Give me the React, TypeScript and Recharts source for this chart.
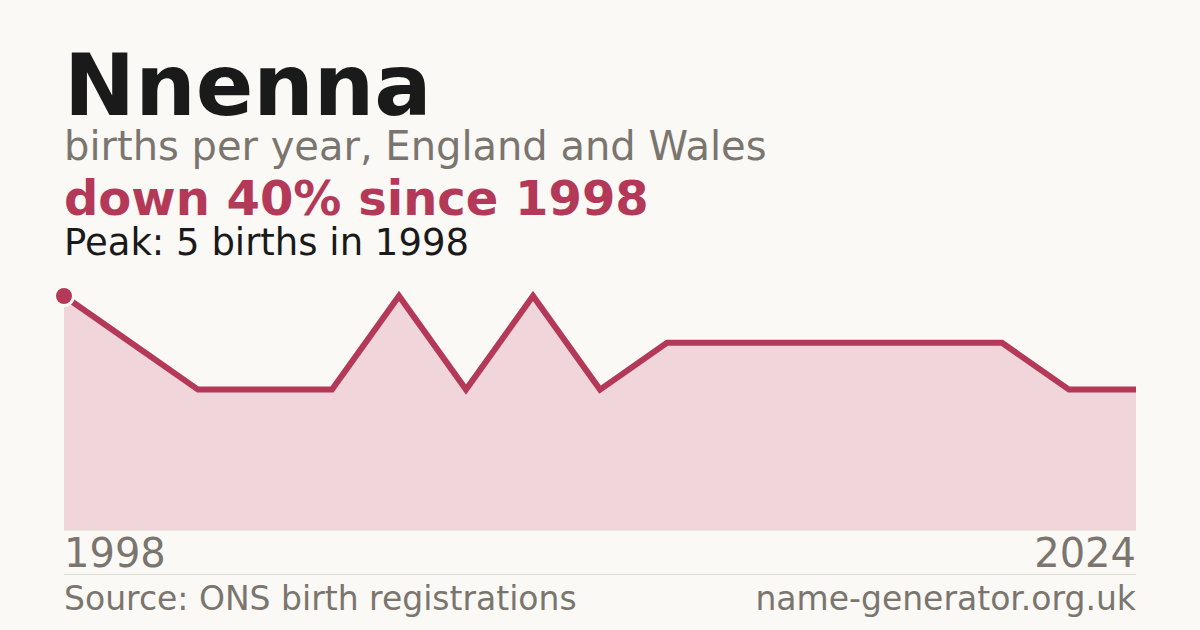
import React from 'react';
import { AreaChart, Area, XAxis, YAxis } from 'recharts';

const years = [1998, 1999, 2001, 2003, 2005, 2006, 2008, 2010, 2012, 2014, 2016, 2017, 2019, 2020, 2022, 2023, 2024];
const births = [5, 4, 3, 3, 3, 5, 3, 5, 3, 4, 4, 4, 4, 4, 4, 3, 3];
const axisLabels = ['1998', '2024'];

const BG = '#faf9f5';
const CRIMSON = '#b43958';
const FILL = '#f0d5da';
const GREY = '#7a756e';
const INK = '#1a1a1a';

const data = years.map((y, i) => ({ year: y, births: births[i] }));

const FirstDot = (props: any) => {
  const { cx, cy, index } = props;
  if (index !== 0) return <g key={`d${index}`} />;
  return <circle key="d0" cx={cx} cy={cy} r={9.5} fill={CRIMSON} stroke={BG} strokeWidth={3} />;
};

const YearTick = (props: any) => {
  const { x, y, payload } = props;
  const label = String(payload.value);
  if (!axisLabels.includes(label)) return <g />;
  const first = label === axisLabels[0];
  return (
    <text x={x} y={y} dy={29} textAnchor={first ? 'start' : 'end'} fill={GREY} fontSize={40} fontFamily="DejaVu Sans">
      {label}
    </text>
  );
};

export default function App() {
  return (
    <div style={{ position: 'absolute', left: 0, top: 0, width: 1200, height: 630, background: BG, fontFamily: 'DejaVu Sans' }}>
      <AreaChart width={1200} height={630} data={data} margin={{ top: 296, right: 64, bottom: 70, left: 64 }}>
        <XAxis
          dataKey="year"
          type="category"
          interval={0}
          height={30}
          tickLine={false}
          axisLine={{ stroke: '#dedad2', strokeWidth: 1 }}
          tick={<YearTick />}
        />
        <YAxis hide domain={[0, 5]} />
        <Area
          type="linear"
          dataKey="births"
          stroke={CRIMSON}
          strokeWidth={6}
          fill={FILL}
          fillOpacity={1}
          dot={FirstDot}
          activeDot={false}
          isAnimationActive={false}
        />
      </AreaChart>
      <svg width={1200} height={630} style={{ position: 'absolute', left: 0, top: 0, pointerEvents: 'none' }}>
        <text x={64} y={115} fontSize={85} fontWeight="bold" fill={INK}>Nnenna</text>
        <text x={64} y={160} fontSize={40} fill={GREY}>births per year, England and Wales</text>
        <text x={64} y={215} fontSize={48} fontWeight="bold" fill={CRIMSON}>down 40% since 1998</text>
        <text x={64} y={255} fontSize={37} fill={INK}>Peak: 5 births in 1998</text>
        <line x1={64} x2={1136} y1={574.5} y2={574.5} stroke="#dedad2" strokeWidth={1} />
        <text x={64} y={610} fontSize={33} fill={GREY}>Source: ONS birth registrations</text>
        <text x={1136} y={610} fontSize={33} fill={GREY} textAnchor="end">name-generator.org.uk</text>
      </svg>
    </div>
  );
}
